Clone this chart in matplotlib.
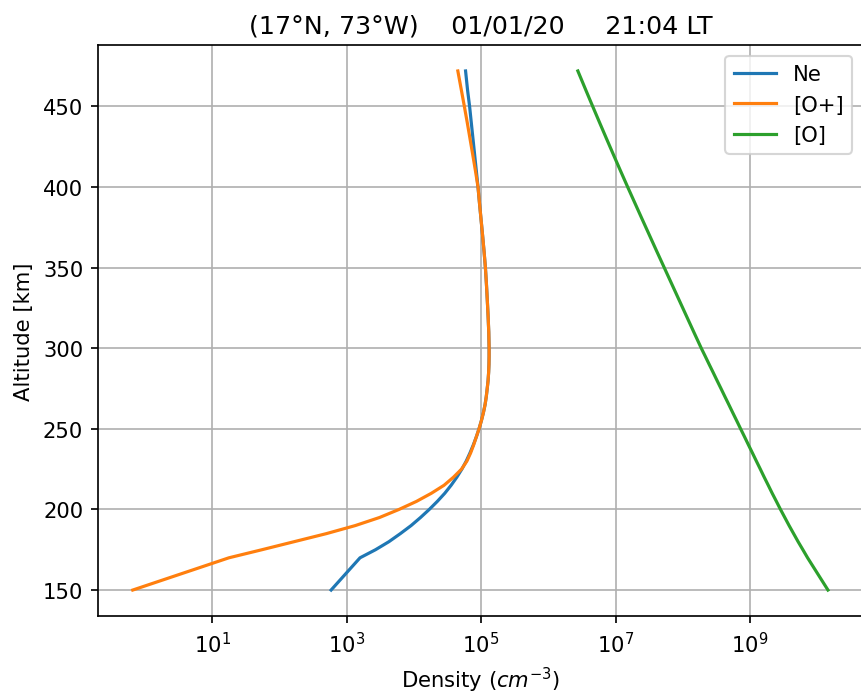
import numpy as np
import matplotlib
matplotlib.use("Agg")
import matplotlib.pyplot as plt
from matplotlib.ticker import NullLocator

# altitude grid [km]
altitude = [150, 170, 175, 180, 185, 190, 195, 200, 205, 210, 215, 220, 225,
            230, 235, 240, 245, 250, 255, 260, 265, 270, 275, 280, 285, 290,
            295, 300, 310, 320, 330, 340, 350, 360, 370, 380, 390, 400, 410,
            420, 430, 440, 450, 460, 472]

# log10 densities [cm-3]
ne_log = [2.77, 3.20, 3.43, 3.63, 3.80, 3.96, 4.10, 4.23, 4.35, 4.46, 4.555,
          4.64, 4.715, 4.78, 4.835, 4.885, 4.93, 4.97, 5.005, 5.035, 5.06,
          5.078, 5.092, 5.105, 5.113, 5.118, 5.12, 5.12, 5.115, 5.105, 5.093,
          5.08, 5.065, 5.045, 5.023, 5.0, 4.977, 4.955, 4.93, 4.905, 4.88,
          4.855, 4.83, 4.80, 4.77]
op_log = [-0.18, 1.25, 1.74, 2.22, 2.70, 3.13, 3.49, 3.78, 4.04, 4.26, 4.45,
          4.59, 4.71, 4.79, 4.845, 4.89, 4.93, 4.97, 5.005, 5.035, 5.06,
          5.078, 5.092, 5.105, 5.113, 5.118, 5.12, 5.12, 5.115, 5.105, 5.093,
          5.08, 5.065, 5.045, 5.023, 5.0, 4.977, 4.955, 4.917, 4.877, 4.836,
          4.795, 4.752, 4.708, 4.655]
o_log = [10.16, 9.857, 9.787, 9.716, 9.649, 9.582, 9.518, 9.454, 9.393,
         9.331, 9.272, 9.212, 9.154, 9.095, 9.037, 8.978, 8.92, 8.861, 8.803,
         8.744, 8.686, 8.627, 8.569, 8.51, 8.452, 8.393, 8.335, 8.276, 8.165,
         8.055, 7.945, 7.835, 7.725, 7.615, 7.506, 7.397, 7.289, 7.181, 7.075,
         6.97, 6.866, 6.763, 6.661, 6.56, 6.44]

labels = ["Ne", "[O+]", "[O]"]
title = "(17°N, 73°W)    01/01/20     21:04 LT"

dpi = 152
fig = plt.figure(figsize=(861 / dpi, 696 / dpi), dpi=dpi)
ax = fig.add_axes([98 / 861, 1 - 617 / 696, 1 - 98 / 861 + 0.002, (617 - 46) / 696])

for vals, lab in zip([ne_log, op_log, o_log], labels):
    ax.plot(10 ** np.array(vals), altitude, label=lab)

ax.set_xscale("log")
ax.xaxis.set_minor_locator(NullLocator())
ax.grid(True)
ax.set_xlabel("Density ($cm^{-3}$)")
ax.set_ylabel("Altitude [km]")
ax.set_title(title)
ax.legend()

fig.savefig("out.png", dpi=dpi)
